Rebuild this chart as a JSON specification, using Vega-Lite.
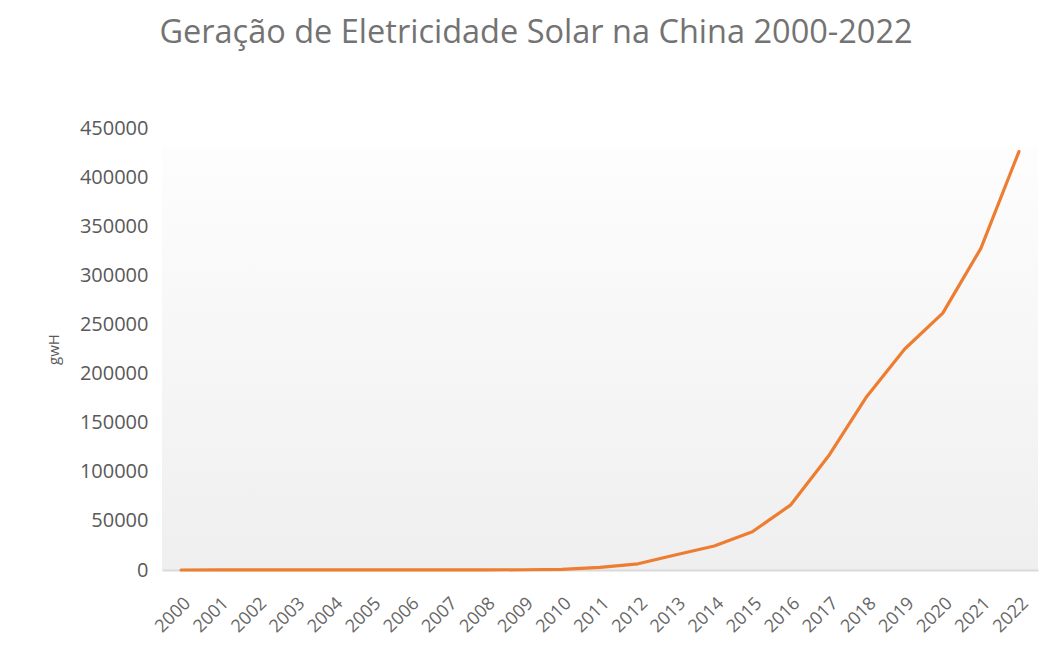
{
  "$schema": "https://vega.github.io/schema/vega-lite/v6.json",
  "autosize": "none",
  "width": 876,
  "height": 442,
  "padding": {"left": 162, "top": 128, "right": 14, "bottom": 87},
  "background": "#ffffff",
  "title": {
    "text": "Geração de Eletricidade Solar na China 2000-2022",
    "font": "Open Sans",
    "fontSize": 32.5,
    "fontWeight": "normal",
    "color": "#737373",
    "anchor": "middle",
    "frame": "group",
    "baseline": "alphabetic",
    "dx": -64,
    "offset": 43
  },
  "config": {
    "view": {
      "stroke": null,
      "fill": {
        "gradient": "linear",
        "x1": 0, "y1": 0, "x2": 0, "y2": 1,
        "stops": [
          {"offset": 0, "color": "#ffffff"},
          {"offset": 0.04, "color": "#ffffff"},
          {"offset": 0.05, "color": "#fdfdfd"},
          {"offset": 1, "color": "#efefef"}
        ]
      }
    },
    "axis": {
      "labelFont": "Open Sans",
      "titleFont": "Open Sans",
      "labelColor": "#595959",
      "titleColor": "#595959",
      "grid": false,
      "ticks": false
    }
  },
  "data": {
    "values": [
      {"ano": "2000", "gwh": 20},
      {"ano": "2001", "gwh": 30},
      {"ano": "2002", "gwh": 50},
      {"ano": "2003", "gwh": 60},
      {"ano": "2004", "gwh": 80},
      {"ano": "2005", "gwh": 80},
      {"ano": "2006", "gwh": 100},
      {"ano": "2007", "gwh": 110},
      {"ano": "2008", "gwh": 150},
      {"ano": "2009", "gwh": 280},
      {"ano": "2010", "gwh": 700},
      {"ano": "2011", "gwh": 2600},
      {"ano": "2012", "gwh": 6300},
      {"ano": "2013", "gwh": 15500},
      {"ano": "2014", "gwh": 24500},
      {"ano": "2015", "gwh": 39000},
      {"ano": "2016", "gwh": 66000},
      {"ano": "2017", "gwh": 116000},
      {"ano": "2018", "gwh": 176500},
      {"ano": "2019", "gwh": 225000},
      {"ano": "2020", "gwh": 261500},
      {"ano": "2021", "gwh": 327500},
      {"ano": "2022", "gwh": 426000}
    ]
  },
  "mark": {"type": "line", "color": "#ED7D31", "strokeWidth": 3.2, "strokeCap": "round", "strokeJoin": "round"},
  "encoding": {
    "x": {
      "field": "ano",
      "type": "ordinal",
      "scale": {"type": "point", "padding": 0.5},
      "axis": {
        "title": null,
        "labelAngle": -45,
        "labelFontSize": 18,
        "labelPadding": 24,
        "labelColor": "#666666",
        "domain": true,
        "domainColor": "#dadada",
        "domainWidth": 2
      }
    },
    "y": {
      "field": "gwh",
      "type": "quantitative",
      "scale": {"domain": [0, 450000], "nice": false},
      "axis": {
        "title": "gwH",
        "titleFontSize": 15,
        "titleFontWeight": "normal",
        "titlePadding": 18,
        "labelFontSize": 20,
        "labelPadding": 14,
        "values": [0, 50000, 100000, 150000, 200000, 250000, 300000, 350000, 400000, 450000],
        "format": "d",
        "domain": false
      }
    }
  }
}
